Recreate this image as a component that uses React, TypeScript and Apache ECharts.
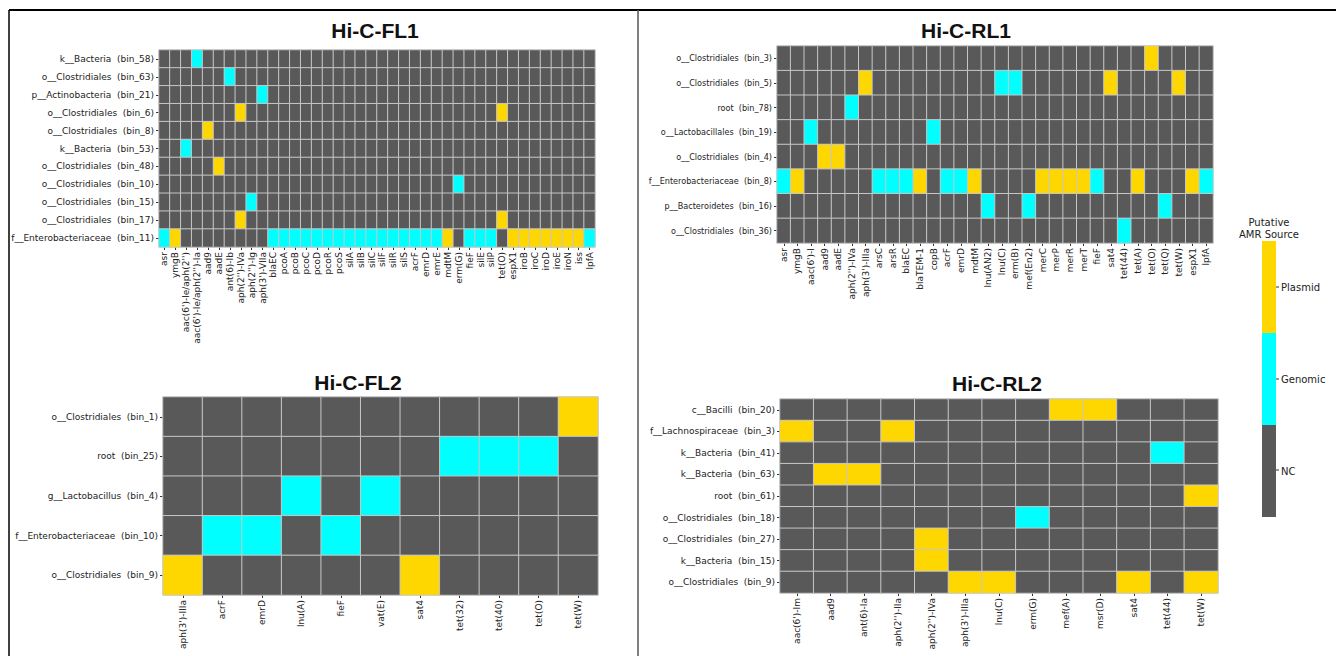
import React, { useEffect, useRef } from "react";
import * as echarts from "echarts";

// ---------- data ----------
// value codes: 0 = NC, 1 = Genomic, 2 = Plasmid
const SOURCE_LABELS = ["NC", "Genomic", "Plasmid"];
const SOURCE_COLORS = ["#595959", "#00FFFF", "#FFD700"];

const FL1_BINS = [
  "k__Bacteria  (bin_58)",
  "o__Clostridiales  (bin_63)",
  "p__Actinobacteria  (bin_21)",
  "o__Clostridiales  (bin_6)",
  "o__Clostridiales  (bin_8)",
  "k__Bacteria  (bin_53)",
  "o__Clostridiales  (bin_48)",
  "o__Clostridiales  (bin_10)",
  "o__Clostridiales  (bin_15)",
  "o__Clostridiales  (bin_17)",
  "f__Enterobacteriaceae  (bin_11)",
];
const FL1_GENES = [
  "asr", "ymgB", "aac(6')-Ie/aph(2'')", "aac(6')-Ie/aph(2'')-Ia", "aad9", "aadE",
  "ant(6)-Ib", "aph(2'')-IVa", "aph(2'')-Ig", "aph(3')-VIIa", "blaEC", "pcoA",
  "pcoB", "pcoC", "pcoD", "pcoR", "pcoS", "silA", "silB", "silC", "silF", "silR",
  "silS", "acrF", "emrD", "emrE", "mdtM", "erm(G)", "fieF", "silE", "silP",
  "tet(O)", "espX1", "iroB", "iroC", "iroD", "iroE", "iroN", "iss", "lpfA",
];
const FL1_VALUES = [
  [0,0,0,1,0,0,0,0,0,0, 0,0,0,0,0,0,0,0,0,0, 0,0,0,0,0,0,0,0,0,0, 0,0,0,0,0,0,0,0,0,0],
  [0,0,0,0,0,0,1,0,0,0, 0,0,0,0,0,0,0,0,0,0, 0,0,0,0,0,0,0,0,0,0, 0,0,0,0,0,0,0,0,0,0],
  [0,0,0,0,0,0,0,0,0,1, 0,0,0,0,0,0,0,0,0,0, 0,0,0,0,0,0,0,0,0,0, 0,0,0,0,0,0,0,0,0,0],
  [0,0,0,0,0,0,0,2,0,0, 0,0,0,0,0,0,0,0,0,0, 0,0,0,0,0,0,0,0,0,0, 0,2,0,0,0,0,0,0,0,0],
  [0,0,0,0,2,0,0,0,0,0, 0,0,0,0,0,0,0,0,0,0, 0,0,0,0,0,0,0,0,0,0, 0,0,0,0,0,0,0,0,0,0],
  [0,0,1,0,0,0,0,0,0,0, 0,0,0,0,0,0,0,0,0,0, 0,0,0,0,0,0,0,0,0,0, 0,0,0,0,0,0,0,0,0,0],
  [0,0,0,0,0,2,0,0,0,0, 0,0,0,0,0,0,0,0,0,0, 0,0,0,0,0,0,0,0,0,0, 0,0,0,0,0,0,0,0,0,0],
  [0,0,0,0,0,0,0,0,0,0, 0,0,0,0,0,0,0,0,0,0, 0,0,0,0,0,0,0,1,0,0, 0,0,0,0,0,0,0,0,0,0],
  [0,0,0,0,0,0,0,0,1,0, 0,0,0,0,0,0,0,0,0,0, 0,0,0,0,0,0,0,0,0,0, 0,0,0,0,0,0,0,0,0,0],
  [0,0,0,0,0,0,0,2,0,0, 0,0,0,0,0,0,0,0,0,0, 0,0,0,0,0,0,0,0,0,0, 0,2,0,0,0,0,0,0,0,0],
  [1,2,0,0,0,0,0,0,0,0, 1,1,1,1,1,1,1,1,1,1, 1,1,1,1,1,1,2,0,1,1, 1,0,2,2,2,2,2,2,2,1],
];

const RL1_BINS = [
  "o__Clostridiales  (bin_3)",
  "o__Clostridiales  (bin_5)",
  "root  (bin_78)",
  "o__Lactobacillales  (bin_19)",
  "o__Clostridiales  (bin_4)",
  "f__Enterobacteriaceae  (bin_8)",
  "p__Bacteroidetes  (bin_16)",
  "o__Clostridiales  (bin_36)",
];
const RL1_GENES = [
  "asr", "ymgB", "aac(6')-I", "aad9", "aadE", "aph(2'')-IVa", "aph(3')-IIIa",
  "arsC", "arsR", "blaEC", "blaTEM-1", "copB", "acrF", "emrD", "mdtM",
  "lnu(AN2)", "lnu(C)", "erm(B)", "mef(En2)", "merC", "merP", "merR", "merT",
  "fieF", "sat4", "tet(44)", "tet(A)", "tet(O)", "tet(Q)", "tet(W)", "espX1", "lpfA",
];
const RL1_VALUES = [
  [0,0,0,0,0,0,0,0,0,0, 0,0,0,0,0,0,0,0,0,0, 0,0,0,0,0,0,0,2,0,0, 0,0],
  [0,0,0,0,0,0,2,0,0,0, 0,0,0,0,0,0,1,1,0,0, 0,0,0,0,2,0,0,0,0,2, 0,0],
  [0,0,0,0,0,1,0,0,0,0, 0,0,0,0,0,0,0,0,0,0, 0,0,0,0,0,0,0,0,0,0, 0,0],
  [0,0,1,0,0,0,0,0,0,0, 0,1,0,0,0,0,0,0,0,0, 0,0,0,0,0,0,0,0,0,0, 0,0],
  [0,0,0,2,2,0,0,0,0,0, 0,0,0,0,0,0,0,0,0,0, 0,0,0,0,0,0,0,0,0,0, 0,0],
  [1,2,0,0,0,0,0,1,1,1, 2,0,1,1,2,0,0,0,0,2, 2,2,2,1,0,0,2,0,0,0, 2,1],
  [0,0,0,0,0,0,0,0,0,0, 0,0,0,0,0,1,0,0,1,0, 0,0,0,0,0,0,0,0,1,0, 0,0],
  [0,0,0,0,0,0,0,0,0,0, 0,0,0,0,0,0,0,0,0,0, 0,0,0,0,0,1,0,0,0,0, 0,0],
];

const FL2_BINS = [
  "o__Clostridiales  (bin_1)",
  "root  (bin_25)",
  "g__Lactobacillus  (bin_4)",
  "f__Enterobacteriaceae  (bin_10)",
  "o__Clostridiales  (bin_9)",
];
const FL2_GENES = [
  "aph(3')-IIIa", "acrF", "emrD", "lnu(A)", "fieF", "vat(E)", "sat4",
  "tet(32)", "tet(40)", "tet(O)", "tet(W)",
];
const FL2_VALUES = [
  [0,0,0,0,0,0,0,0,0,0,2],
  [0,0,0,0,0,0,0,1,1,1,0],
  [0,0,0,1,0,1,0,0,0,0,0],
  [0,1,1,0,1,0,0,0,0,0,0],
  [2,0,0,0,0,0,2,0,0,0,0],
];

const RL2_BINS = [
  "c__Bacilli  (bin_20)",
  "f__Lachnospiraceae  (bin_3)",
  "k__Bacteria  (bin_41)",
  "k__Bacteria  (bin_63)",
  "root  (bin_61)",
  "o__Clostridiales  (bin_18)",
  "o__Clostridiales  (bin_27)",
  "k__Bacteria  (bin_15)",
  "o__Clostridiales  (bin_9)",
];
const RL2_GENES = [
  "aac(6')-Im", "aad9", "ant(6)-Ia", "aph(2'')-IIa", "aph(2'')-IVa",
  "aph(3')-IIIa", "lnu(C)", "erm(G)", "mef(A)", "msr(D)", "sat4", "tet(44)", "tet(W)",
];
const RL2_VALUES = [
  [0,0,0,0,0,0,0,0,2,2,0,0,0],
  [2,0,0,2,0,0,0,0,0,0,0,0,0],
  [0,0,0,0,0,0,0,0,0,0,0,1,0],
  [0,2,2,0,0,0,0,0,0,0,0,0,0],
  [0,0,0,0,0,0,0,0,0,0,0,0,2],
  [0,0,0,0,0,0,0,1,0,0,0,0,0],
  [0,0,0,0,2,0,0,0,0,0,0,0,0],
  [0,0,0,0,2,0,0,0,0,0,0,0,0],
  [0,0,0,0,0,2,2,0,0,0,2,0,2],
];

// ---------- layout ----------
const LABEL_FONT = "'DejaVu Sans', 'Noto Sans', sans-serif";
const NARROW_FONT = "'Liberation Sans Narrow', 'DejaVu Sans Condensed', 'Liberation Sans', sans-serif";
const TITLE_FONT = "'Liberation Sans', Arial, sans-serif";

const PANELS = [
  { title: "Hi-C-FL1", bins: FL1_BINS, genes: FL1_GENES, values: FL1_VALUES,
    grid: { left: 159, top: 50, width: 436, height: 197 }, tx: 375, ty: 32, yFont: LABEL_FONT },
  { title: "Hi-C-RL1", bins: RL1_BINS, genes: RL1_GENES, values: RL1_VALUES,
    grid: { left: 777, top: 46, width: 436, height: 197 }, tx: 966, ty: 32, yFont: NARROW_FONT },
  { title: "Hi-C-FL2", bins: FL2_BINS, genes: FL2_GENES, values: FL2_VALUES,
    grid: { left: 163, top: 397, width: 435, height: 198 }, tx: 358, ty: 384, yFont: LABEL_FONT },
  { title: "Hi-C-RL2", bins: RL2_BINS, genes: RL2_GENES, values: RL2_VALUES,
    grid: { left: 780, top: 399, width: 438, height: 194 }, tx: 997, ty: 385, yFont: LABEL_FONT },
];

const LEGEND_TICK_Y = [287, 379, 470];

function toCells(values: number[][]) {
  const out: number[][] = [];
  values.forEach((row, y) => row.forEach((v, x) => out.push([x, y, v])));
  return out;
}

export default function App() {
  const ref = useRef<HTMLDivElement>(null);

  useEffect(() => {
    if (!ref.current) return;
    const chart = echarts.init(ref.current, undefined, { renderer: "svg" });

    const labelStyle = { fontSize: 9, color: "#222", fontFamily: LABEL_FONT };
    const tick = { show: true, alignWithLabel: true, length: 3, interval: 0, lineStyle: { color: "#333", width: 1 } };

    const option: any = {
      animation: false,
      backgroundColor: "#ffffff",
      title: PANELS.map((p) => ({
        text: p.title,
        left: p.tx,
        top: p.ty - 12,
        textAlign: "center",
        padding: 0,
        textStyle: { fontSize: 21, fontWeight: "bold", color: "#111", fontFamily: TITLE_FONT },
      })),
      grid: PANELS.map((p) => ({ ...p.grid, containLabel: false })),
      xAxis: PANELS.map((p, i) => ({
        type: "category",
        gridIndex: i,
        data: p.genes,
        position: "bottom",
        axisLine: { show: false },
        axisTick: tick,
        splitLine: { show: false },
        axisLabel: { ...labelStyle, rotate: 90, interval: 0, margin: 5 },
      })),
      yAxis: PANELS.map((p, i) => ({
        type: "category",
        gridIndex: i,
        data: p.bins,
        inverse: true,
        axisLine: { show: false },
        axisTick: tick,
        splitLine: { show: false },
        axisLabel: { ...labelStyle, fontFamily: p.yFont, interval: 0, margin: 5 },
      })),
      visualMap: {
        type: "piecewise",
        seriesIndex: [0, 1, 2, 3],
        dimension: 2,
        orient: "vertical",
        left: 1262,
        top: 241,
        padding: 0,
        itemWidth: 14,
        itemHeight: 92,
        itemGap: 0,
        itemSymbol: "rect",
        textGap: 5,
        align: "left",
        selectedMode: false,
        hoverLink: false,
        textStyle: { fontSize: 10, color: "#222", fontFamily: LABEL_FONT },
        pieces: [2, 1, 0].map((v) => ({ value: v, label: SOURCE_LABELS[v], color: SOURCE_COLORS[v] })),
      },
      series: PANELS.map((p, i) => ({
        type: "heatmap",
        name: p.title,
        xAxisIndex: i,
        yAxisIndex: i,
        data: toCells(p.values),
        itemStyle: { borderColor: "#c6c6c6", borderWidth: 1 },
        emphasis: { disabled: true },
        label: { show: false },
      })),
      graphic: [
        { type: "line", shape: { x1: 9, y1: 10, x2: 1336, y2: 10 }, style: { stroke: "#000", lineWidth: 2 } },
        { type: "line", shape: { x1: 9, y1: 10, x2: 9, y2: 656 }, style: { stroke: "#000", lineWidth: 1.5 } },
        { type: "line", shape: { x1: 638, y1: 10, x2: 638, y2: 656 }, style: { stroke: "#555", lineWidth: 1.5 } },
        ...LEGEND_TICK_Y.map((y) => ({
          type: "line",
          shape: { x1: 1276, y1: y, x2: 1279, y2: y },
          style: { stroke: "#333", lineWidth: 1 },
        })),
        {
          type: "text",
          x: 1269,
          y: 228,
          style: {
            text: "Putative\nAMR Source",
            align: "center",
            verticalAlign: "middle",
            fontSize: 10,
            lineHeight: 12,
            fill: "#222",
            fontFamily: LABEL_FONT,
          },
        },
      ],
    };

    chart.setOption(option);
    return () => chart.dispose();
  }, []);

  return (
    <div
      ref={ref}
      style={{ position: "fixed", left: 0, top: 0, width: 1336, height: 656, background: "#fff" }}
    />
  );
}
